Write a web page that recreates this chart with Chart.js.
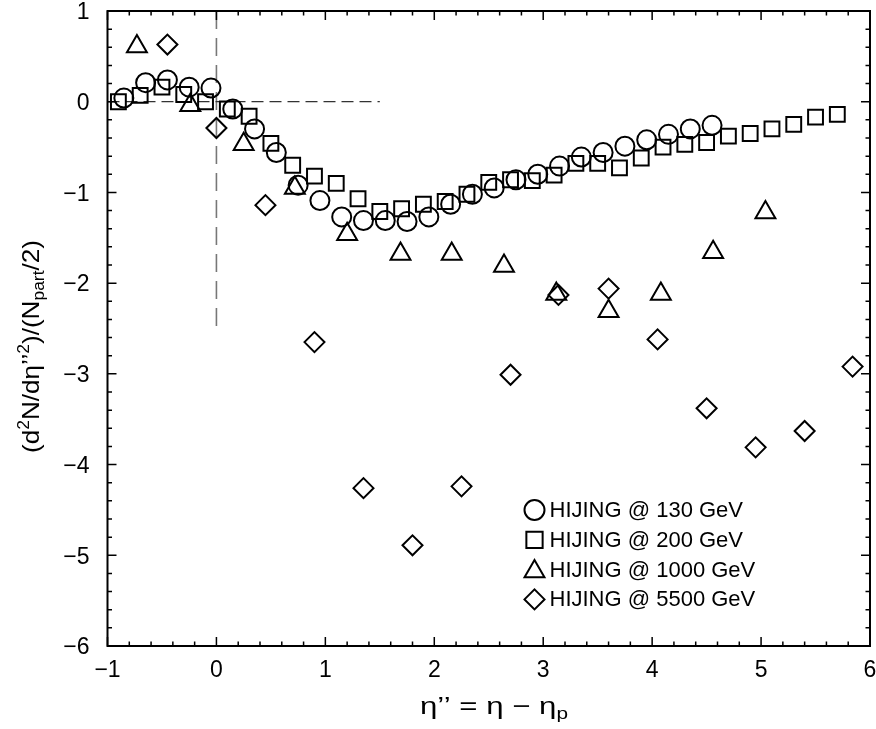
<!DOCTYPE html>
<html>
<head>
<meta charset="utf-8">
<script src="https://cdn.jsdelivr.net/npm/chart.js@4/dist/chart.umd.min.js"></script>
<style>
  html, body { margin: 0; padding: 0; background: #fff; }
  #wrap { width: 876px; height: 729px; position: relative; }
</style>
</head>
<body>
<div id="wrap"><canvas id="c" width="876" height="729"></canvas></div>
<script>
// ---- data ----
const seriesLabels = ['HIJING @ 130 GeV', 'HIJING @ 200 GeV', 'HIJING @ 1000 GeV', 'HIJING @ 5500 GeV'];

const x130 = [-0.85,-0.65,-0.45,-0.25,-0.05,0.15,0.35,0.55,0.75,0.95,1.15,1.35,1.55,1.75,1.95,2.15,2.35,2.55,2.75,2.95,3.15,3.35,3.55,3.75,3.95,4.15,4.35,4.55];
const y130 = [0.04,0.21,0.24,0.16,0.15,-0.08,-0.30,-0.56,-0.92,-1.09,-1.27,-1.31,-1.31,-1.32,-1.27,-1.13,-1.02,-0.95,-0.86,-0.80,-0.71,-0.61,-0.56,-0.49,-0.42,-0.36,-0.30,-0.26];

const x200 = [-0.9,-0.7,-0.5,-0.3,-0.1,0.1,0.3,0.5,0.7,0.9,1.1,1.3,1.5,1.7,1.9,2.1,2.3,2.5,2.7,2.9,3.1,3.3,3.5,3.7,3.9,4.1,4.3,4.5,4.7,4.9,5.1,5.3,5.5,5.7];
const y200 = [0.0,0.07,0.16,0.08,0.0,-0.08,-0.16,-0.46,-0.70,-0.82,-0.90,-1.07,-1.21,-1.18,-1.13,-1.10,-1.02,-0.89,-0.86,-0.87,-0.81,-0.68,-0.68,-0.73,-0.62,-0.50,-0.47,-0.45,-0.38,-0.35,-0.30,-0.25,-0.17,-0.14];

const x1000 = [-0.73,-0.24,0.25,0.72,1.2,1.69,2.16,2.64,3.12,3.6,4.08,4.56,5.04];
const y1000 = [0.61,-0.04,-0.47,-0.95,-1.46,-1.68,-1.68,-1.81,-2.12,-2.31,-2.12,-1.66,-1.22];

const x5500 = [-0.45,0.0,0.45,0.9,1.35,1.8,2.25,2.7,3.14,3.6,4.05,4.5,4.95,5.4,5.84];
const y5500 = [0.63,-0.29,-1.14,-2.65,-4.26,-4.89,-4.24,-3.01,-2.13,-2.06,-2.62,-3.38,-3.81,-3.63,-2.92];

// reference dashed lines
const refHx = [-1, 1.5];
const refHy = [0, 0];
const refVx = [0, 0];
const refVy = [1, -2.5];

const xTicks = [-1, 0, 1, 2, 3, 4, 5, 6];
const yTicks = [-6, -5, -4, -3, -2, -1, 0, 1];

// ---- helpers ----
const pts = (xs, ys) => xs.map((x, i) => ({ x: x, y: ys[i] }));
const minusFmt = v => String(v).replace('-', '\u2212');
const FONT = '"Liberation Sans", Arial, Helvetica, sans-serif';

const markerDefs = [
  { style: 'circle', r: 9.5 },
  { style: 'rect', r: 10.5 },
  { style: 'triangle', r: 11.5 },
  { style: 'rectRot', r: 10 }
];
const seriesData = [pts(x130, y130), pts(x200, y200), pts(x1000, y1000), pts(x5500, y5500)];

const datasets = seriesData.map((d, i) => ({
  label: seriesLabels[i],
  data: d,
  showLine: false,
  pointStyle: markerDefs[i].style,
  pointRadius: markerDefs[i].r,
  pointHoverRadius: markerDefs[i].r,
  pointBorderWidth: 2,
  borderColor: '#000',
  backgroundColor: 'rgba(0,0,0,0)',
  pointBackgroundColor: 'rgba(0,0,0,0)'
}));
datasets.push({
  label: '_refH', data: pts(refHx, refHy), showLine: true, pointRadius: 0,
  borderColor: '#333', borderWidth: 1.3, borderDash: [12, 6], fill: false
});
datasets.push({
  label: '_refV', data: pts(refVx, refVy), showLine: true, pointRadius: 0,
  borderColor: '#777', borderWidth: 1.6, borderDash: [18, 9], fill: false
});

// rich text drawing for axis titles (stretched to a target width)
function drawRich(ctx, runs, cx, cy, size, targetW) {
  const small = Math.round(size * 0.66);
  const w = runs.map(r => {
    ctx.font = (r.s ? small : size) + 'px ' + FONT;
    return ctx.measureText(r.t).width;
  });
  const total = w.reduce((a, b) => a + b, 0);
  const sx = targetW ? targetW / total : 1;
  ctx.save();
  ctx.translate(cx, cy);
  ctx.scale(sx, 1);
  let x = -total / 2;
  ctx.textBaseline = 'alphabetic';
  ctx.textAlign = 'left';
  runs.forEach((r, i) => {
    ctx.font = (r.s ? small : size) + 'px ' + FONT;
    let dy = 0;
    if (r.s === 'sup') dy = -size * 0.42;
    if (r.s === 'sub') dy = size * 0.22;
    ctx.fillText(r.t, x, dy);
    x += w[i];
  });
  ctx.restore();
}

const framePlugin = {
  id: 'frame',
  afterDatasetsDraw(chart) {
    const ctx = chart.ctx;
    const a = chart.chartArea;
    const xs = chart.scales.x, ys = chart.scales.y;
    ctx.save();
    ctx.strokeStyle = '#000';
    ctx.lineWidth = 2;
    ctx.strokeRect(a.left, a.top, a.right - a.left, a.bottom - a.top);
    ctx.lineWidth = 1.5;
    ctx.beginPath();
    for (let k = 0; k <= 35; k++) {
      const v = xs.min + k * 0.2;
      const px = xs.getPixelForValue(v);
      const len = (k % 5 === 0) ? 9 : 4.5;
      ctx.moveTo(px, a.bottom); ctx.lineTo(px, a.bottom - len);
      ctx.moveTo(px, a.top); ctx.lineTo(px, a.top + len);
    }
    for (let k = 0; k <= 35; k++) {
      const v = ys.min + k * 0.2;
      const py = ys.getPixelForValue(v);
      const len = (k % 5 === 0) ? 9 : 4.5;
      ctx.moveTo(a.left, py); ctx.lineTo(a.left + len, py);
      ctx.moveTo(a.right, py); ctx.lineTo(a.right - len, py);
    }
    ctx.stroke();

    // tick labels from the scales' ticks
    ctx.fillStyle = '#000';
    ctx.font = '23px ' + FONT;
    ctx.textAlign = 'center';
    ctx.textBaseline = 'middle';
    xs.ticks.forEach(t => {
      ctx.fillText(minusFmt(t.value), xs.getPixelForValue(t.value), a.bottom + 25);
    });
    ctx.textAlign = 'right';
    ys.ticks.forEach(t => {
      ctx.fillText(minusFmt(t.value), a.left - 18, ys.getPixelForValue(t.value) + 2);
    });

    // legend
    const lx = a.left + 427, ly0 = 510, step = 29.8;
    ctx.font = '22px ' + FONT;
    ctx.textBaseline = 'middle';
    ctx.textAlign = 'left';
    const legR = [10, 11.5, 11.5, 10];
    seriesLabels.forEach((lab, i) => {
      const y = ly0 + i * step;
      ctx.save();
      ctx.strokeStyle = '#000';
      ctx.lineWidth = 2;
      ctx.fillStyle = 'rgba(0,0,0,0)';
      const dy = markerDefs[i].style === 'triangle' ? 2 : 0;
      if (Chart.helpers && Chart.helpers.drawPoint) {
        Chart.helpers.drawPoint(ctx, { pointStyle: markerDefs[i].style, radius: legR[i], borderWidth: 2, rotation: 0 }, lx, y + dy);
      }
      ctx.restore();
      ctx.fillText(lab, lx + 15, y + 1);
    });

    // axis titles
    drawRich(ctx, [
      { t: 'η’’ = η − η' }, { t: 'p', s: 'sub' }
    ], 494, 714, 24, 148);
    ctx.save();
    ctx.translate(39, 346.5);
    ctx.rotate(-Math.PI / 2);
    drawRich(ctx, [
      { t: '(d' }, { t: '2', s: 'sup' }, { t: 'N/dη’’' }, { t: '2', s: 'sup' },
      { t: ')/(N' }, { t: 'part', s: 'sub' }, { t: '/2)' }
    ], 0, 0, 24, 213);
    ctx.restore();
    ctx.restore();
  }
};

new Chart(document.getElementById('c'), {
  type: 'scatter',
  data: { datasets: datasets },
  options: {
    responsive: false,
    animation: false,
    devicePixelRatio: 1,
    layout: { autoPadding: false, padding: { left: 0, right: 6, top: 11, bottom: 0 } },
    plugins: { legend: { display: false }, tooltip: { enabled: false } },
    scales: {
      x: {
        type: 'linear', min: -1, max: 6,
        afterBuildTicks: s => { s.ticks = xTicks.map(v => ({ value: v })); },
        afterFit: s => { s.height = 83; },
        grid: { display: false, drawTicks: false },
        border: { display: false },
        ticks: { display: false }
      },
      y: {
        type: 'linear', min: -6, max: 1,
        afterBuildTicks: s => { s.ticks = yTicks.map(v => ({ value: v })); },
        afterFit: s => { s.width = 107.5; },
        grid: { display: false, drawTicks: false },
        border: { display: false },
        ticks: { display: false }
      }
    }
  },
  plugins: [framePlugin]
});
</script>
</body>
</html>
